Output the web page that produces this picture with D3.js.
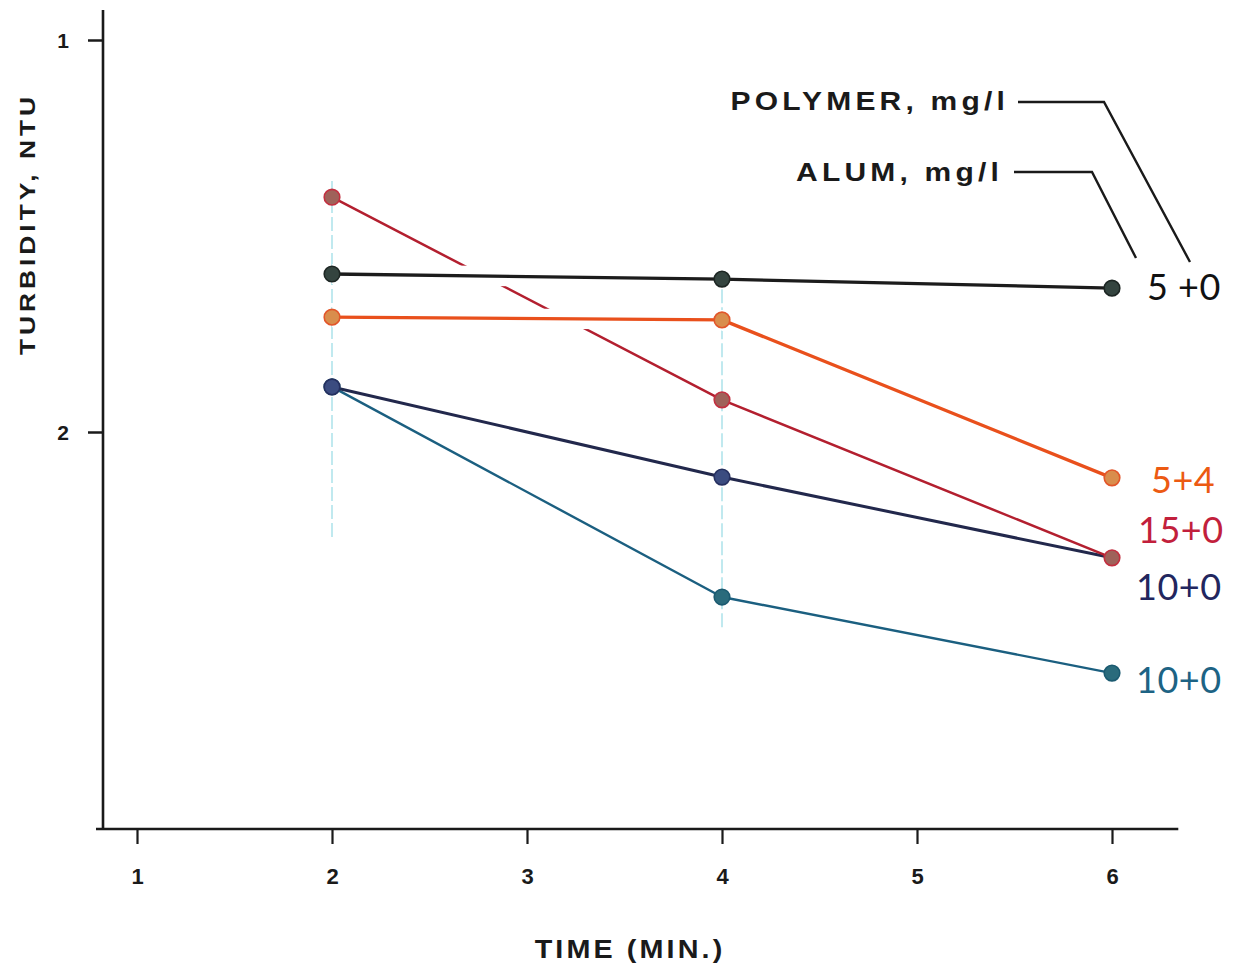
<!DOCTYPE html>
<html>
<head>
<meta charset="utf-8">
<script src="https://cdn.jsdelivr.net/npm/d3@7"></script>
<style>
  html, body { margin: 0; padding: 0; background: #ffffff; }
  svg { display: block; }
  .axis-label { font-family: "Liberation Sans", Arial, sans-serif; font-weight: bold; fill: #1a1a1a; }
  .series-label { font-family: "Lato", "DejaVu Sans", sans-serif; font-weight: 400; }
</style>
</head>
<body>
<svg id="chart" width="1235" height="968"></svg>
<script>
// Sampling times (min.)
const times = [2, 4, 6];

// Turbidity (NTU) for each dose combination, polymer + alum (mg/l)
const polymer5Alum0 = [1.597, 1.610, 1.633];
const polymer5Alum4 = [1.707, 1.714, 2.117];
const polymer15Alum0 = [1.401, 1.918, 2.321];
const polymer10Alum0a = [1.885, 2.115, 2.321];
const polymer10Alum0b = [1.885, 2.421, 2.615];

const seriesLabels = ["5 +0", "5+4", "15+0", "10+0", "10+0"];
const xTickValues = [1, 2, 3, 4, 5, 6];
const yTickValues = [1, 2];

const svg = d3.select("#chart");

// Turbidity increases downward on this plot
const x = d3.scaleLinear().domain([1, 6]).range([137, 1112]);
const y = d3.scaleLinear().domain([1, 2]).range([40, 432]);
const axisX = 103;     // y-axis position
const axisY = 829;     // x-axis position

const series = [
  { key: "teal",   values: polymer10Alum0b, label: seriesLabels[4], line: "#1b5f80", dot: "#2a6b7c", dotStroke: "#1b5a70", width: 2.4, lx: 24, ly: 20, lc: "#1d6384" },
  { key: "navy",   values: polymer10Alum0a, label: seriesLabels[3], line: "#22284c", dot: "#3b4c80", dotStroke: "#263060", width: 3,   lx: 24, ly: 42, lc: "#22265e", noEndDot: true },
  { key: "red",    values: polymer15Alum0,  label: seriesLabels[2], line: "#b31f2f", dot: "#9f625a", dotStroke: "#c23040", width: 2.5, lx: 26, ly: -15, lc: "#c21f3c" },
  { key: "black",  values: polymer5Alum0,   label: seriesLabels[0], line: "#1c1c1c", dot: "#34443f", dotStroke: "#1d2623", width: 3.3, lx: 35, ly: 12, lc: "#111111", halo: true },
  { key: "orange", values: polymer5Alum4,   label: seriesLabels[1], line: "#e9501c", dot: "#d98d4c", dotStroke: "#e2562a", width: 3.3, lx: 39, ly: 15, lc: "#ec5a12", halo: true }
];

// Faint vertical guide marks at the sampling times
const guides = [{ t: 2, from: 1.36, to: 2.27 }, { t: 4, from: 1.59, to: 2.5 }];
svg.append("g").selectAll("line").data(guides).join("line")
  .attr("x1", d => x(d.t)).attr("x2", d => x(d.t))
  .attr("y1", d => y(d.from)).attr("y2", d => y(d.to))
  .attr("stroke", "#a6e0e8").attr("stroke-width", 1.4)
  .attr("stroke-dasharray", "14 4");

// Axes
const yAxis = d3.axisLeft(y).tickValues(yTickValues).tickSize(15).tickFormat(d3.format("d"));
const gy = svg.append("g").attr("transform", `translate(${axisX},0)`).call(yAxis);
gy.select(".domain").remove();
gy.selectAll(".tick line").attr("stroke", "#1a1a1a").attr("stroke-width", 2.5);
gy.selectAll(".tick text").attr("class", "axis-label").attr("font-size", 21).attr("x", -34).attr("dy", "0.35em");

svg.append("line").attr("x1", axisX).attr("x2", axisX).attr("y1", 10).attr("y2", axisY + 1)
  .attr("stroke", "#1a1a1a").attr("stroke-width", 2.6);

const xAxis = d3.axisBottom(x).tickValues(xTickValues).tickSize(15).tickFormat(d3.format("d"));
const gx = svg.append("g").attr("transform", `translate(0,${axisY})`).call(xAxis);
gx.select(".domain").remove();
gx.selectAll(".tick line").attr("stroke", "#1a1a1a").attr("stroke-width", 2.2);
gx.selectAll(".tick text").attr("class", "axis-label").attr("font-size", 22).attr("y", 47).attr("dy", "0.35em");

svg.append("line").attr("x1", 96).attr("x2", x(6.34)).attr("y1", axisY).attr("y2", axisY)
  .attr("stroke", "#1a1a1a").attr("stroke-width", 2.6);

// Axis titles in a wide, extended lettering
svg.append("text").attr("class", "axis-label")
  .attr("transform", "translate(630,958) scale(1.15,1)")
  .attr("text-anchor", "middle")
  .attr("font-size", 25).attr("letter-spacing", 2.7)
  .text("TIME (MIN.)");

svg.append("text").attr("class", "axis-label")
  .attr("transform", "translate(35,224) rotate(-90) scale(1.2,1)")
  .attr("text-anchor", "middle")
  .attr("font-size", 22).attr("letter-spacing", 3.3)
  .text("TURBIDITY, NTU");

// Lines
const line = d3.line().x((d, i) => x(times[i])).y(d => y(d));
const lineLayer = svg.append("g");
series.forEach(s => {
  if (s.halo) {
    // break the underlying crossing line with a white band
    lineLayer.append("path").attr("d", line(s.values))
      .attr("fill", "none").attr("stroke", "#ffffff").attr("stroke-width", 20);
  }
  lineLayer.append("path").attr("d", line(s.values))
    .attr("fill", "none").attr("stroke", s.line)
    .attr("stroke-width", s.width).attr("stroke-linejoin", "round");
});

// Points
series.forEach(s => {
  const pts = s.values.map((v, i) => ({ t: times[i], v }))
    .filter((p, i) => !(s.noEndDot && i === s.values.length - 1));
  svg.append("g").selectAll("circle").data(pts).join("circle")
    .attr("cx", d => x(d.t)).attr("cy", d => y(d.v)).attr("r", 7.8)
    .attr("fill", s.dot).attr("stroke", s.dotStroke).attr("stroke-width", 1.6);
});

// End labels (polymer + alum dose)
series.forEach(s => {
  const last = s.values[s.values.length - 1];
  svg.append("text").attr("class", "series-label")
    .attr("x", x(6) + s.lx).attr("y", y(last) + s.ly)
    .attr("font-size", 36).attr("letter-spacing", 0.5).attr("fill", s.lc)
    .text(s.label);
});

// Key: which number is polymer and which is alum
const key = svg.append("g").attr("class", "key");
key.append("text").attr("class", "axis-label")
  .attr("transform", "translate(1009,110) scale(1.2,1)").attr("text-anchor", "end")
  .attr("font-size", 25).attr("letter-spacing", 3.5)
  .text("POLYMER, mg/l");
key.append("text").attr("class", "axis-label")
  .attr("transform", "translate(1003,181) scale(1.2,1)").attr("text-anchor", "end")
  .attr("font-size", 25).attr("letter-spacing", 3.5)
  .text("ALUM, mg/l");
key.append("path").attr("d", "M1018,102 L1104,102 L1190,262")
  .attr("fill", "none").attr("stroke", "#1a1a1a").attr("stroke-width", 2.4);
key.append("path").attr("d", "M1014,172 L1092,172 L1136,258")
  .attr("fill", "none").attr("stroke", "#1a1a1a").attr("stroke-width", 2.4);
</script>
</body>
</html>
